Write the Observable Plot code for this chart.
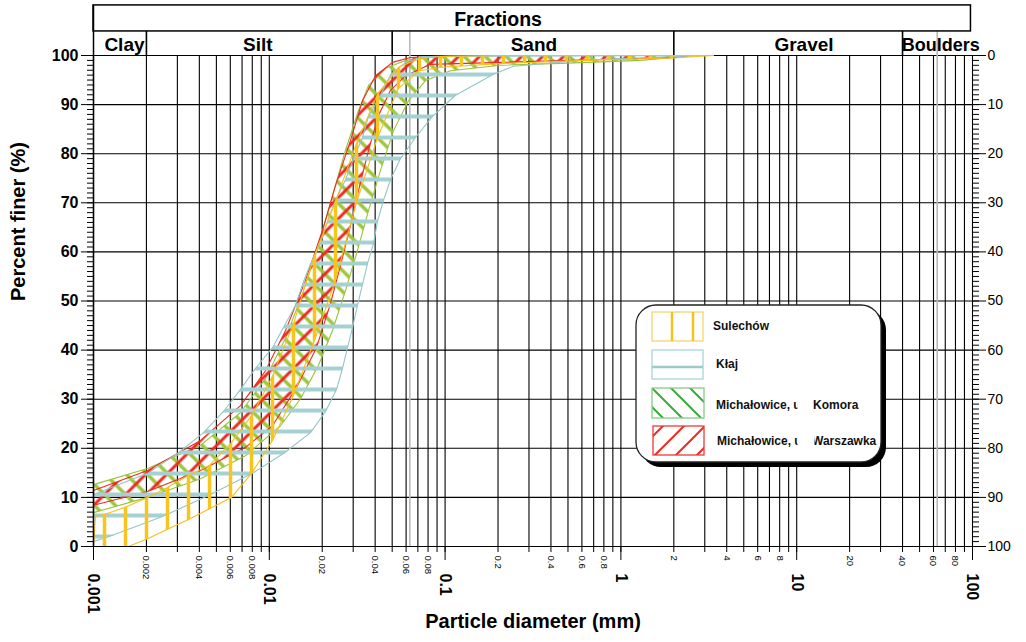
<!DOCTYPE html>
<html><head><meta charset="utf-8">
<script src="https://cdn.jsdelivr.net/npm/d3@7"></script>
<script src="https://cdn.jsdelivr.net/npm/@observablehq/plot@0.6"></script>
<style>
html,body{margin:0;padding:0;background:#fff;}
#wrap{position:relative;width:1026px;height:642px;overflow:hidden;}
#legend{position:absolute;left:0;top:0;pointer-events:none;}
</style></head><body><div id="wrap"></div>
<script>
const FONT = "'Liberation Sans', Arial, Helvetica, sans-serif";

// ---------- data ----------
const majorXTicks = [0.001, 0.01, 0.1, 1, 10, 100];
const majorXLabels = ["0.001", "0.01", "0.1", "1", "10", "100"];
const minorXTicks = [0.002, 0.004, 0.006, 0.008, 0.02, 0.04, 0.06, 0.08, 0.2, 0.4, 0.6, 0.8, 2, 4, 6, 8, 20, 40, 60, 80];
const minorXLabels = ["0.002", "0.004", "0.006", "0.008", "0.02", "0.04", "0.06", "0.08", "0.2", "0.4", "0.6", "0.8", "2", "4", "6", "8", "20", "40", "60", "80"];
const yMajorTicks = [0, 10, 20, 30, 40, 50, 60, 70, 80, 90, 100];

const fractionNames = ["Clay", "Silt", "Sand", "Gravel", "Boulders"];
const fractionLabelAt = [0.0015, 0.0086, 0.32, 11, 66];
const fractionBounds = [0.002, 0.05, 2, 40];
const standardBounds = [0.063, 63];
const headerTitle = "Fractions";

// Sulechów envelope (finer / coarser boundary)
const sulechowFineD = [0.001, 0.001026, 0.001155, 0.001541, 0.00203, 0.002636, 0.00347, 0.00457, 0.0061, 0.00802, 0.0104, 0.01373, 0.01784, 0.0238, 0.03133, 0.04126, 0.0543, 0.07152, 0.0954, 0.2, 3.36];
const sulechowFineP = [0, 6.1, 6.5, 8.1, 10, 12, 14.5, 16.5, 21.2, 26.9, 34.6, 45.4, 58.7, 70.3, 82.1, 92.1, 97.6, 99.4, 99.8, 100, 100];
const sulechowCoarseD = [0.001, 0.001581, 0.00203, 0.002636, 0.00347, 0.00457, 0.0061, 0.00792, 0.01043, 0.01373, 0.01808, 0.0238, 0.03133, 0.04126, 0.0543, 0.07152, 0.0954, 0.215, 0.6457, 1.99, 3.36];
const sulechowCoarseP = [0, 0, 1.6, 3.5, 5.5, 7.7, 10, 14.9, 21.6, 30.8, 42, 54.2, 70.1, 83.3, 93.3, 96.9, 97.6, 98.4, 99, 99.5, 100];

// Kłaj envelope
const klajFineD = [0.001, 0.001266, 0.00203, 0.003045, 0.004224, 0.00549, 0.00686, 0.00835, 0.01043, 0.01204, 0.01409, 0.01545, 0.01716, 0.01955, 0.02143, 0.0238, 0.02713, 0.03013, 0.03389, 0.03667, 0.04291, 0.04891, 0.05953, 0.07437, 3.03];
const klajFineP = [10.6, 12, 14.9, 19.1, 23.2, 27.5, 32, 36.3, 40.5, 44.6, 49.1, 53.4, 57.6, 61.7, 66.2, 70.5, 74.7, 79, 83.3, 87.6, 91.9, 96.1, 98.6, 99.8, 100];
const klajCoarseD = [0.001, 0.001217, 0.00247, 0.00451, 0.00802, 0.0122, 0.01716, 0.02088, 0.02412, 0.02609, 0.02785, 0.02973, 0.03174, 0.03389, 0.03619, 0.03914, 0.04126, 0.04462, 0.04891, 0.05576, 0.06784, 0.08479, 0.1146, 0.1861, 0.2449, 0.589, 1.474, 3.03];
const klajCoarseP = [1.0, 2, 6.1, 10.4, 14.9, 19.1, 23.2, 27.5, 32, 36.3, 40.5, 44.6, 49.1, 53.4, 57.6, 61.7, 66.2, 70.5, 74.7, 79, 83.3, 87.6, 91.9, 96.1, 97.8, 99, 99.6, 100];

// Michałowice, Komora envelope
const komoraFineD = [0.001, 0.00203, 0.00406, 0.00686, 0.00951, 0.01237, 0.01545, 0.01905, 0.02288, 0.02713, 0.03216, 0.03667, 0.04581, 0.05953, 0.0826, 0.1224, 2.2];
const komoraFineP = [12.6, 15.9, 20.6, 27.3, 34.2, 42.4, 51.5, 61.3, 71.5, 80.7, 88.8, 93.9, 97.4, 99, 99.6, 100, 100];
const komoraCoarseD = [0.001, 0.00203, 0.00406, 0.00732, 0.01158, 0.01505, 0.01905, 0.02288, 0.02713, 0.03174, 0.03667, 0.04291, 0.05088, 0.06191, 0.07736, 0.1073, 0.2066, 0.453, 1.293, 2.0, 2.2];
const komoraCoarseP = [6.9, 10, 13.8, 18.5, 24.6, 30.1, 36.9, 44, 52.1, 60.3, 68.4, 76.6, 84.7, 90.8, 94.9, 96.9, 98, 98.4, 99, 99.6, 100];

// Michałowice, Warszawka envelope
const warszawkaFineD = [0.001, 0.00203, 0.00406, 0.00686, 0.00951, 0.01237, 0.01607, 0.02007, 0.0238, 0.02897, 0.03389, 0.0402, 0.05022, 0.06357, 0.1073, 2.49];
const warszawkaFineP = [11.4, 15.5, 21.6, 28.7, 35.8, 44, 54.2, 64.4, 73.5, 82.7, 90.8, 95.9, 98.6, 99.6, 100, 100];
const warszawkaCoarseD = [0.001, 0.00203, 0.00406, 0.00732, 0.01043, 0.01428, 0.01856, 0.0223, 0.0254, 0.02897, 0.03216, 0.03667, 0.04181, 0.04891, 0.05953, 0.0826, 0.2066, 0.766, 2.0, 2.49];
const warszawkaCoarseP = [8.4, 11.2, 15.5, 20.2, 24.6, 32.4, 40.5, 49.5, 57.2, 65.4, 72.5, 80.7, 87.8, 92.9, 95.9, 98.2, 98.6, 99.2, 99.6, 100];

const seriesNames = ["Sulechów", "Kłaj", "Michałowice, ul. Komora", "Michałowice, ul. Warszawka"];

// ---------- build ----------
function band(fD, fP, cD, cP) {
  const pts = fD.map((d, i) => ({d, p: fP[i]}));
  for (let i = cD.length - 1; i >= 0; i--) pts.push({d: cD[i], p: cP[i]});
  pts.push(pts[0]);
  return pts;
}

const bands = [
  {pts: band(komoraFineD, komoraFineP, komoraCoarseD, komoraCoarseP), fill: "url(#hatch-green)", stroke: "#98c43c"},
  {pts: band(warszawkaFineD, warszawkaFineP, warszawkaCoarseD, warszawkaCoarseP), fill: "url(#hatch-red)", stroke: "#ee2a24"},
  {pts: band(klajFineD, klajFineP, klajCoarseD, klajCoarseP), fill: "url(#hatch-teal)", stroke: "#93c6c7"},
  {pts: band(sulechowFineD, sulechowFineP, sulechowCoarseD, sulechowCoarseP), fill: "url(#hatch-yellow)", stroke: "#f5c01c"}
];

const gridX = [];
for (const dec of [0.001, 0.01, 0.1, 1, 10]) for (let m = 1; m <= 9; m++) gridX.push(+(dec * m).toPrecision(3));
gridX.push(100);
const yMinor = d3.range(0, 101, 1);

const P_ROW = 104.9, P_TOP = 110.2, X_RIGHT = 98;

const svg = Plot.plot({
  width: 1026, height: 642,
  marginLeft: 93, marginRight: 54, marginTop: 55, marginBottom: 96,
  style: {fontFamily: FONT, background: "white", color: "black", overflow: "visible"},
  x: {type: "log", domain: [0.001, 100]},
  y: {domain: [0, 100]},
  marks: [
    Plot.ruleX(gridX, {stroke: "#000", strokeOpacity: 1, strokeWidth: 1.1}),
    Plot.ruleY(yMajorTicks, {stroke: "#000", strokeOpacity: 1, strokeWidth: 1.1}),
    Plot.ruleX(standardBounds, {y1: 0, y2: P_ROW, stroke: "#b8b8b8", strokeWidth: 1.6}),
    ...bands.map(b => Plot.line(b.pts, {x: "d", y: "p", fill: b.fill, stroke: b.stroke, strokeWidth: 1.1, curve: "linear", clip: true})),
    // left axis
    Plot.axisY({ticks: yMinor, tickSize: 6, tickFormat: () => "", label: null}),
    Plot.axisY({ticks: yMajorTicks, tickSize: 12, tickPadding: 3, fontSize: 16, fontWeight: "bold", label: null}),
    // right axis (reversed)
    Plot.axisY({anchor: "right", ticks: yMinor, tickSize: 6, tickFormat: () => "", label: null}),
    Plot.axisY({anchor: "right", ticks: yMajorTicks, tickSize: 13, tickPadding: 2, tickFormat: d => String(100 - d), fontSize: 14, label: null}),
    // bottom axis
    Plot.axisX({ticks: gridX, tickSize: 6, tickFormat: () => "", label: null}),
    Plot.axisX({ticks: majorXTicks, tickSize: 14, tickFormat: () => "", label: null}),
    Plot.text(minorXTicks, {x: d => d, y: 0, text: (d, i) => minorXLabels[i], rotate: 90, textAnchor: "start", dy: 9, fontSize: 9.5}),
    Plot.text(majorXTicks, {x: d => d, y: 0, text: (d, i) => majorXLabels[i], rotate: 90, textAnchor: "start", dy: 27, fontSize: 16, fontWeight: "bold"}),
    // axis titles
    Plot.text(["Percent finer (%)"], {frameAnchor: "left", dx: -75, rotate: -90, fontSize: 20, fontWeight: "bold"}),
    Plot.text(["Particle diameter (mm)"], {frameAnchor: "bottom", dy: 81, fontSize: 20, fontWeight: "bold"}),
    // header
    Plot.rect([0], {x1: () => 0.001, x2: () => X_RIGHT, y1: () => P_ROW, y2: () => P_TOP, stroke: "#000", strokeWidth: 1.5, fill: "none"}),
    Plot.ruleX([0.001], {y1: 0, y2: P_TOP, stroke: "#000", strokeWidth: 1.5}),
    Plot.ruleX(fractionBounds, {y1: 100, y2: P_ROW, stroke: "#000", strokeWidth: 1.6}),
    Plot.text(fractionNames, {x: (d, i) => fractionLabelAt[i], y: 102.1, text: d => d, fontSize: (d, i) => i === 4 ? 18 : 19, fontWeight: "bold"}),
    Plot.text([headerTitle], {x: () => 0.2, y: () => 107.2, text: d => d, fontSize: 19.5, fontWeight: "bold"})
  ]
});

const S = 21;
d3.select(svg).insert("defs", ":first-child").html(`
<pattern id="hatch-yellow" patternUnits="userSpaceOnUse" x="${104 - S / 2}" y="0" width="${S}" height="${S}">
  <line x1="${S / 2}" y1="-1" x2="${S / 2}" y2="${S + 1}" stroke="#f8c51f" stroke-width="3.5"/>
</pattern>
<pattern id="hatch-teal" patternUnits="userSpaceOnUse" x="0" y="${536 - S / 2}" width="${S}" height="${S}">
  <line x1="-1" y1="${S / 2}" x2="${S + 1}" y2="${S / 2}" stroke="#a6d1d2" stroke-width="4"/>
</pattern>
<pattern id="hatch-red" patternUnits="userSpaceOnUse" x="104" y="536" width="${S}" height="${S}">
  <path d="M-2,${S + 2}L${S + 2},-2M-3,3L3,-3M${S - 3},${S + 3}L${S + 3},${S - 3}" stroke="#ef2720" stroke-width="3"/>
</pattern>
<pattern id="hatch-green" patternUnits="userSpaceOnUse" x="104" y="536" width="${S}" height="${S}">
  <path d="M-2,-2L${S + 2},${S + 2}M${S - 3},-3L${S + 3},3M-3,${S - 3}L3,${S + 3}" stroke="#9dc63c" stroke-width="3.5"/>
</pattern>`);

const wrap = document.getElementById("wrap");
wrap.appendChild(svg);

// ---------- legend ----------
const leg = d3.select(wrap).append("svg").attr("id", "legend").attr("width", 1026).attr("height", 642)
  .style("font-family", FONT);
leg.append("defs").html(`
<pattern id="leg-green" patternUnits="userSpaceOnUse" x="652" y="388" width="19" height="19">
  <path d="M-2,-2L21,21M16,-3L22,3M-3,16L3,22" stroke="#3aab3a" stroke-width="2"/>
</pattern>
<pattern id="leg-red" patternUnits="userSpaceOnUse" x="655" y="455" width="21" height="21">
  <path d="M-2,23L23,-2M-3,3L3,-3M18,24L24,18" stroke="#ee2a24" stroke-width="2"/>
</pattern>
<clipPath id="clipA"><rect x="700" y="380" width="97.5" height="80"/></clipPath>
<clipPath id="clipB"><rect x="814.5" y="380" width="80" height="80"/></clipPath>`);
leg.append("rect").attr("x", 641).attr("y", 310).attr("width", 245).attr("height", 157).attr("rx", 20).attr("fill", "#000");
leg.append("rect").attr("x", 636).attr("y", 305).attr("width", 245).attr("height", 157).attr("rx", 20)
  .attr("fill", "#fff").attr("stroke", "#222").attr("stroke-width", 1.3);

// swatch 1 - Sulechów
leg.append("rect").attr("x", 652).attr("y", 312).attr("width", 51).attr("height", 29).attr("fill", "none").attr("stroke", "#f6d46e").attr("stroke-width", 1.3);
[672, 693].forEach(x => leg.append("line").attr("x1", x).attr("x2", x).attr("y1", 312).attr("y2", 341).attr("stroke", "#f7c21e").attr("stroke-width", 2.5));
// swatch 2 - Kłaj
leg.append("rect").attr("x", 652).attr("y", 350).attr("width", 51).attr("height", 29).attr("fill", "none").attr("stroke", "#aad4d4").attr("stroke-width", 1.3);
leg.append("line").attr("x1", 652).attr("x2", 703).attr("y1", 367).attr("y2", 367).attr("stroke", "#9ccacb").attr("stroke-width", 2.5);
// swatch 3 - Komora
leg.append("rect").attr("x", 652).attr("y", 388).attr("width", 52).attr("height", 30).attr("fill", "url(#leg-green)").attr("stroke", "#86cc84").attr("stroke-width", 1.3);
// swatch 4 - Warszawka
leg.append("rect").attr("x", 653).attr("y", 426).attr("width", 51).attr("height", 29).attr("fill", "url(#leg-red)").attr("stroke", "#ef3a36").attr("stroke-width", 1.3);

const lt = (x, y, s, clip) => {
  const t = leg.append("text").attr("x", x).attr("y", y).attr("font-size", 12).attr("font-weight", "bold").attr("fill", "#111").text(s);
  if (clip) t.attr("clip-path", `url(#${clip})`);
};
lt(713, 330, seriesNames[0]);
lt(716, 368, seriesNames[1]);
lt(716, 409, "Michałowice, ul.", "clipA");
lt(813, 409, "Komora");
lt(717, 445, "Michałowice, ul.", "clipA");
lt(812, 445, "Warszawka", "clipB");
</script></body></html>
